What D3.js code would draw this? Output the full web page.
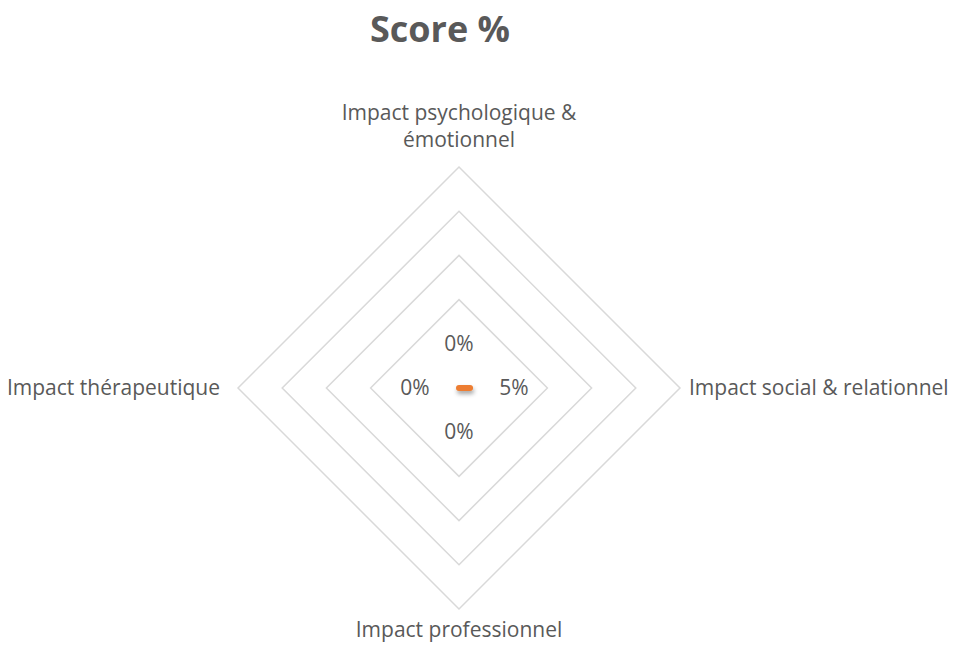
<!DOCTYPE html>
<html lang="fr">
<head>
    <meta charset="UTF-8">
    <title>Score %</title>
    <style>
        body { margin: 0; background: #fff; }
        text { font-family: "Open Sans", sans-serif; fill: #595959; }
    </style>
</head>
<body>
    <div id="chart"></div>
    <script src="https://d3js.org/d3.v7.min.js"></script>
    <script>
        const WIDTH = 954;
        const HEIGHT = 646;
        const CX = 459;
        const CY = 388;
        const RADIUS = 221;

        const CATEGORIES = [
            ["Impact psychologique &", "émotionnel"],
            ["Impact social & relationnel"],
            ["Impact professionnel"],
            ["Impact thérapeutique"]
        ];
        const SCORES = [0, 0.05, 0, 0];
        const RING_TICKS = [0.4, 0.6, 0.8, 1.0];

        const rScale = d3.scaleLinear().domain([0, 1]).range([0, RADIUS]);
        const angle = i => i * 2 * Math.PI / CATEGORIES.length;
        const fmt = d3.format(".0%");

        const svg = d3.select("#chart")
            .append("svg")
            .attr("width", WIDTH)
            .attr("height", HEIGHT);

        // shadow filter in user space (the series is a flat line, bbox height 0)
        const shadow = svg.append("defs").append("filter")
            .attr("id", "shadow")
            .attr("filterUnits", "userSpaceOnUse")
            .attr("x", -60).attr("y", -60)
            .attr("width", 120).attr("height", 120);
        shadow.append("feDropShadow")
            .attr("dx", 1).attr("dy", 3)
            .attr("stdDeviation", 2)
            .attr("flood-color", "#000")
            .attr("flood-opacity", 0.35);

        svg.append("text")
            .attr("x", 440)
            .attr("y", 42)
            .attr("text-anchor", "middle")
            .attr("font-size", 36)
            .attr("font-weight", "bold")
            .text("Score %");

        const g = svg.append("g")
            .attr("transform", `translate(${CX}, ${CY})`);

        const radial = d3.lineRadial()
            .angle((d, i) => angle(i))
            .radius(d => rScale(d))
            .curve(d3.curveLinearClosed);

        g.selectAll(".ring")
            .data(RING_TICKS)
            .enter()
            .append("path")
            .attr("class", "ring")
            .attr("d", t => radial(CATEGORIES.map(() => t)))
            .attr("fill", "none")
            .attr("stroke", "#d9d9d9")
            .attr("stroke-width", 1.5);

        // category labels
        const LABEL_PAD = [12, 9, 12, 18];
        const LINE_H = 27;
        CATEGORIES.forEach((lines, i) => {
            const a = angle(i);
            const r = rScale(1) + LABEL_PAD[i];
            const x = r * Math.sin(a);
            const y = -r * Math.cos(a);
            let anchor = "middle";
            let y0 = y;
            if (Math.abs(Math.sin(a)) > 0.5) {
                anchor = Math.sin(a) > 0 ? "start" : "end";
                y0 = y + 7 - (lines.length - 1) * LINE_H / 2;
            } else if (Math.cos(a) > 0) {
                y0 = y - 8 - (lines.length - 1) * LINE_H;
            } else {
                y0 = y + 16;
            }
            const t = g.append("text")
                .attr("x", x)
                .attr("y", y0)
                .attr("text-anchor", anchor)
                .attr("font-size", 21);
            lines.forEach((ln, k) => {
                t.append("tspan")
                    .attr("x", x)
                    .attr("y", y0 + k * LINE_H)
                    .text(ln);
            });
        });

        g.append("path")
            .datum(SCORES)
            .attr("d", radial)
            .attr("fill", "none")
            .attr("stroke", "#ED7D31")
            .attr("stroke-width", 6)
            .attr("stroke-linejoin", "round")
            .attr("stroke-linecap", "round")
            .attr("filter", "url(#shadow)");

        // data labels
        const DL_GAP = 44;
        g.selectAll(".dlabel")
            .data(SCORES)
            .enter()
            .append("text")
            .attr("class", "dlabel")
            .attr("x", (d, i) => (rScale(d) + DL_GAP) * Math.sin(angle(i)))
            .attr("y", (d, i) => -(rScale(d) + DL_GAP) * Math.cos(angle(i)))
            .attr("dy", "0.35em")
            .attr("text-anchor", "middle")
            .attr("font-size", 21)
            .text(d => fmt(d));
    </script>
</body>
</html>
